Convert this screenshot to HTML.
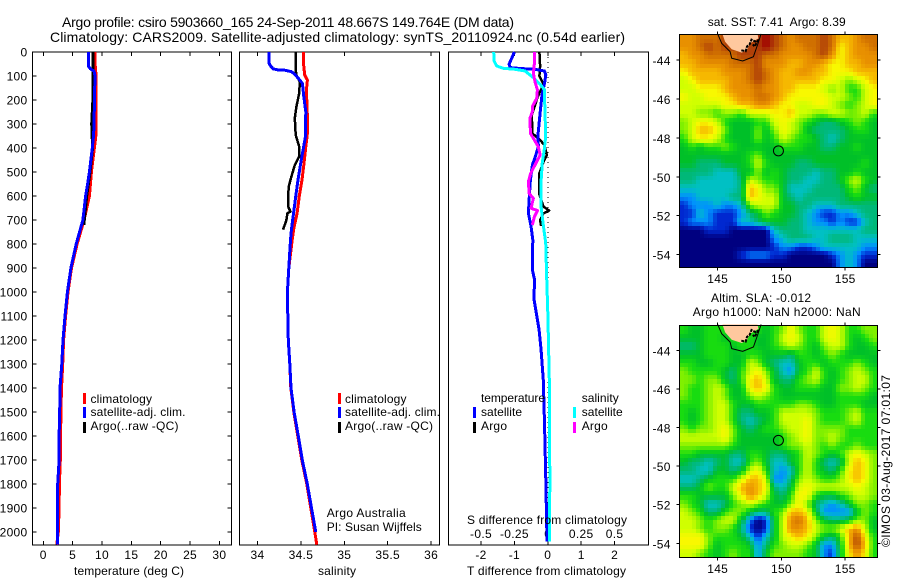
<!DOCTYPE html>
<html>
<head>
<meta charset="utf-8">
<title>Argo profile</title>
<style>
html,body{margin:0;padding:0;background:#fff;}
svg{display:block;}
text{font-family:"Liberation Sans",sans-serif;font-size:12px;fill:#000;}
.t{font-size:14px;}
</style>
</head>
<body>
<svg id="fig" xmlns="http://www.w3.org/2000/svg" width="900" height="580" viewBox="0 0 900 580">
<rect width="900" height="580" fill="#fff"/>
<text class="t" x="62" y="27" textLength="452" lengthAdjust="spacing">Argo profile: csiro 5903660_165 24-Sep-2011 48.667S 149.764E (DM data)</text>
<text class="t" x="50" y="42" textLength="575" lengthAdjust="spacing">Climatology: CARS2009. Satellite-adjusted climatology: synTS_20110924.nc (0.54d earlier)</text>

<g id="p1"></g>
<g id="p2"></g>
<g id="p3"></g>
<g id="m1"></g>
<g id="m2"></g>

<text x="74" y="575" textLength="110" lengthAdjust="spacing">temperature (deg C)</text>
<text x="318" y="575" textLength="38" lengthAdjust="spacing">salinity</text>
<text x="467" y="575" textLength="159" lengthAdjust="spacing">T difference from climatology</text>
<text x="467" y="524" textLength="160" lengthAdjust="spacing">S difference from climatology</text>
<text x="326.7" y="517" textLength="79" lengthAdjust="spacing">Argo Australia</text>
<text x="326.7" y="531" textLength="95" lengthAdjust="spacing">PI: Susan Wijffels</text>

<g>
<rect x="83" y="393" width="3" height="11" fill="#ff0000"/><text x="90.5" y="403" textLength="61.5" lengthAdjust="spacing">climatology</text>
<rect x="83" y="407" width="3" height="11" fill="#0000ff"/><text x="90.5" y="416" textLength="95" lengthAdjust="spacing">satellite-adj. clim.</text>
<rect x="83" y="422" width="3" height="11" fill="#000"/><text x="90.5" y="430" textLength="88" lengthAdjust="spacing">Argo(..raw -QC)</text>
</g>
<g>
<rect x="338" y="393" width="3" height="11" fill="#ff0000"/><text x="345" y="403" textLength="61.5" lengthAdjust="spacing">climatology</text>
<rect x="338" y="407" width="3" height="11" fill="#0000ff"/><text x="345" y="416" textLength="95" lengthAdjust="spacing">satellite-adj. clim.</text>
<rect x="338" y="422" width="3" height="11" fill="#000"/><text x="345" y="430" textLength="88" lengthAdjust="spacing">Argo(..raw -QC)</text>
</g>
<g>
<text x="481" y="402" textLength="64" lengthAdjust="spacing">temperature</text>
<rect x="473" y="407" width="3" height="11" fill="#0000ff"/><text x="481" y="416" textLength="41" lengthAdjust="spacing">satellite</text>
<rect x="473" y="422" width="3" height="11" fill="#000"/><text x="481" y="430" textLength="26" lengthAdjust="spacing">Argo</text>
<text x="581.7" y="402" textLength="37" lengthAdjust="spacing">salinity</text>
<rect x="573" y="407" width="3" height="11" fill="#00ffff"/><text x="581.7" y="416" textLength="41" lengthAdjust="spacing">satellite</text>
<rect x="573" y="422" width="3" height="11" fill="#ff00ff"/><text x="581.7" y="430" textLength="26" lengthAdjust="spacing">Argo</text>
</g>

<text x="707.7" y="26" textLength="138" lengthAdjust="spacing" xml:space="preserve">sat. SST: 7.41  Argo: 8.39</text>
<text x="711" y="302" textLength="100" lengthAdjust="spacing">Altim. SLA: -0.012</text>
<text x="692.7" y="316" textLength="168" lengthAdjust="spacing">Argo h1000: NaN h2000: NaN</text>
<text transform="translate(890,547) rotate(-90)" textLength="172" lengthAdjust="spacing">©IMOS 03-Aug-2017 07:01:07</text>
</svg>
<script>
/* ---------- profile data: depths (db) and values ---------- */
const tempClimDepth=[0,47,100,200,340,400,500,600,700,800,900,1000,1100,1200,1300,1400,1500,1700,1800,1900,2000,2053];
const tempClimVal=[8.8,8.8,9.0,9.0,9.0,8.7,8.2,7.85,6.95,5.75,4.8,4.2,3.8,3.45,3.3,3.1,3.0,2.9,2.75,2.7,2.55,2.3];
const tempSatDepth=[0,60,70,80,100,200,300,350,400,500,550,600,700,800,900,1000,1100,1200,1300,1400,1500,1600,1700,1800,2000,2053];
const tempSatVal=[7.7,7.7,8.0,8.65,8.8,8.7,8.65,8.55,8.35,7.85,7.55,7.2,6.75,5.6,4.7,4.1,3.7,3.35,3.15,2.85,2.8,2.7,2.7,2.45,2.45,2.4];
const tempArgoDepth=[0,100,200,300,400,500,600,720];
const tempArgoVal=[8.45,8.45,8.45,8.25,8.4,7.95,7.4,6.9];

const salClimDepth=[0,47,96,117,158,269,339,394,464,533,603,672,735,783,900,1000,1100,1200,1300,1400,1500,1600,1700,1800,1900,2000,2053];
const salClimVal=[34.53,34.53,34.544,34.575,34.563,34.575,34.575,34.556,34.536,34.513,34.48,34.456,34.418,34.40,34.361,34.344,34.349,34.355,34.372,34.384,34.418,34.464,34.51,34.568,34.614,34.66,34.683];
const salSatDepth=[0,47,58,70,75,76,82,93,114,131,186,249,353,408,464,533,603,686,742,783,900,1000,1100,1200,1300,1400,1500,1600,1700,1800,1900,2000];
const salSatVal=[34.134,34.134,34.15,34.18,34.238,34.314,34.39,34.43,34.48,34.517,34.533,34.556,34.552,34.525,34.498,34.467,34.44,34.41,34.39,34.38,34.361,34.344,34.349,34.355,34.372,34.386,34.422,34.47,34.516,34.574,34.622,34.672];
const salArgoDepth=[0,75,96,124,172,228,276,346,394,436,471,519,561,610,644,665,672,700,740];
const salArgoVal=[34.44,34.44,34.448,34.487,34.48,34.448,34.43,34.44,34.48,34.48,34.43,34.39,34.36,34.352,34.352,34.38,34.345,34.333,34.295];

const dtSatDepth=[0,10,51,65,69,72,79,96,131,186,255,353,394,429,471,533,617,672,728,783,908,946,1033,1158,1242,1367,1546,1783,1992,2040];
const dtSatVal=[-1.0,-1.03,-1.16,-1.13,-0.78,-0.38,-0.10,-0.06,-0.10,-0.18,-0.23,-0.30,-0.28,-0.36,-0.46,-0.52,-0.56,-0.58,-0.5,-0.45,-0.46,-0.40,-0.41,-0.26,-0.2,-0.135,-0.10,-0.06,-0.03,-0.02];
const dsSatDepth=[0,37,58,68,72,79,107,135,156,253,350,406,461,544,642,725,794,942,1100,1367,1546,1783,1992,2040];
const dsSatVal=[-0.405,-0.402,-0.383,-0.333,-0.245,-0.17,-0.108,-0.058,-0.026,-0.021,-0.016,-0.026,-0.041,-0.051,-0.051,-0.033,-0.016,-0.008,0.001,0.011,0.011,0.016,0.011,0.011];
const dtArgoDepth=[0,58,100,135,186,262,339,367,388,429,457,505,589,644,661,672,700,725];
const dtArgoVal=[-0.25,-0.23,-0.25,-0.13,-0.30,-0.48,-0.46,-0.23,-0.10,-0.03,-0.13,-0.25,-0.26,-0.13,0.04,-0.13,-0.23,-0.2];
const dsArgoDepth=[0,47,89,124,158,193,228,249,276,339,360,394,429,471,505,540,589,610,651,661,686,721];
const dsArgoVal=[-0.10,-0.10,-0.108,-0.096,-0.078,-0.083,-0.116,-0.116,-0.133,-0.13,-0.108,-0.071,-0.058,-0.096,-0.128,-0.145,-0.14,-0.108,-0.126,-0.076,-0.10,-0.116];

/* ---------- tick values and labels ---------- */
const depthTicks=[0,100,200,300,400,500,600,700,800,900,1000,1100,1200,1300,1400,1500,1600,1700,1800,1900,2000];
const tempTicks=[0,5,10,15,20,25,30];
const salTicks=[34,34.5,35,35.5,36];
const salTickLabels=["34","34.5","35","35.5","36"];
const salTopTicks=[34,35,36];
const dtTicks=[-2,-1,0,1,2];
const dsTicks=[-0.5,-0.25,0,0.25,0.5];
const dsTickLabels=["-0.5","-0.25","0","0.25","0.5"];
const lonTicks=[145,150,155];
const latTicks=[-44,-46,-48,-50,-52,-54];

/* ---------- map data: colour level per grid cell (north to south) ---------- */
const sstGrid=[
[11,11,12,12,12,13,13,13,13,13,14,13,12,11,12,12,12,13,12,10,10,11,12,12],
[11,11,12,13,12,13,13,13,13,13,14,13,12,11,11,12,12,13,12,9,10,11,11,12],
[10,11,11,12,12,12,12,13,13,13,12,12,11,11,11,11,12,13,11,9,10,11,11,11],
[10,10,11,11,11,11,12,12,12,13,11,11,11,10,10,11,11,10,9,9,10,10,11,11],
[9,10,10,10,10,11,11,11,12,13,12,11,10,10,11,11,10,10,9,9,9,10,10,10],
[8,9,10,10,10,10,11,11,12,13,12,11,10,10,10,10,10,9,9,8,7,8,9,10],
[8,8,9,9,9,10,11,11,11,12,11,11,10,10,9,9,9,8,7,8,6,6,8,9],
[9,8,8,9,9,9,10,11,11,12,12,11,10,9,9,9,9,9,8,8,7,6,8,9],
[8,8,8,8,8,9,9,10,10,11,11,10,9,9,8,8,9,9,8,7,6,7,8,9],
[8,8,7,7,6,7,7,6,8,8,8,9,9,10,8,8,7,7,8,8,7,7,8,6],
[7,8,9,9,8,6,5,5,5,6,6,8,9,8,7,6,5,4,4,5,6,7,6,5],
[7,8,10,10,9,7,5,5,5,7,5,7,9,8,7,5,4,4,4,4,5,6,6,5],
[6,8,9,9,8,6,5,5,5,7,5,6,8,7,6,6,5,4,3,4,5,5,5,5],
[5,6,5,6,6,7,6,5,5,5,5,5,6,6,6,5,5,4,4,5,5,6,5,5],
[5,5,5,5,5,5,5,5,6,7,5,5,5,5,5,5,5,5,5,5,5,5,5,5],
[5,5,4,4,4,5,5,5,6,8,6,5,5,5,4,4,5,5,5,5,5,5,6,5],
[4,4,4,4,3,3,3,5,5,7,5,6,5,4,4,4,3,4,4,5,5,6,5,5],
[4,4,3,3,3,3,3,4,8,7,6,6,5,4,4,3,3,4,4,5,7,8,6,5],
[3,3,3,3,3,3,3,4,10,9,7,7,5,3,3,3,4,4,4,4,6,7,5,4],
[2,2,3,3,3,3,4,4,10,9,8,8,5,4,3,4,4,4,4,4,5,6,5,5],
[1,2,2,2,3,2,2,3,7,8,8,8,5,5,4,4,3,3,3,4,4,4,4,4],
[1,1,3,2,1,1,1,2,4,5,7,6,5,5,4,3,2,1,1,2,2,3,4,4],
[1,2,2,2,1,1,1,3,3,4,5,5,5,4,4,3,2,2,1,2,1,1,3,4],
[0,0,0,1,1,1,0,0,0,0,0,3,4,4,4,3,3,3,3,3,3,3,4,4],
[0,0,0,0,0,0,0,0,0,0,0,2,3,4,4,4,3,3,4,4,4,3,3,3],
[0,0,0,0,0,0,0,0,0,0,0,1,2,2,1,1,2,3,3,3,3,3,2,2],
[0,0,0,0,0,0,0,1,2,2,2,1,1,0,0,0,0,0,1,2,3,2,1,1],
[0,0,0,0,0,0,0,0,0,0,0,0,0,0,0,0,0,0,0,2,3,2,0,0]
];
const slaGrid=[
[6,5,5,6,6,6,6,6,6,6,5,6,7,9,7,6,6,8,9,8,6,6,7,7],
[5,5,5,6,6,5,6,6,6,5,5,6,8,9,8,6,6,8,9,8,6,5,6,7],
[4,4,5,6,6,6,5,6,6,5,5,6,7,8,7,6,5,7,8,8,6,5,5,6],
[5,5,5,6,6,6,5,5,6,6,5,5,5,4,6,6,5,6,7,6,5,5,5,5],
[6,6,5,5,6,6,5,5,8,7,5,4,3,3,5,6,6,5,6,6,6,7,6,5],
[7,6,6,6,6,5,4,6,8,9,7,5,3,2,5,6,8,6,5,6,7,8,7,6],
[7,7,6,7,7,5,4,6,9,10,8,5,4,4,6,7,8,6,5,6,7,8,8,6],
[7,6,6,7,8,7,5,5,9,10,9,6,5,5,6,6,6,5,5,7,7,8,7,6],
[7,6,6,7,8,7,5,5,7,8,7,6,5,5,5,5,5,5,5,6,6,6,6,5],
[6,6,6,7,8,8,6,5,5,6,6,6,6,6,7,7,6,5,5,6,6,6,5,5],
[6,5,6,7,8,8,6,4,4,5,5,6,8,8,8,8,7,6,6,6,7,8,6,6],
[6,5,6,7,8,8,6,4,3,4,5,6,8,8,8,9,7,6,6,6,7,8,6,6],
[7,6,7,7,8,9,7,5,4,5,6,6,7,8,8,9,7,7,7,7,6,6,6,6],
[8,8,8,8,8,9,7,5,5,5,5,5,6,7,8,9,7,7,8,7,6,6,6,6],
[7,7,7,7,7,7,6,5,5,5,5,5,6,7,7,8,7,6,7,6,6,7,6,6],
[6,6,5,5,5,5,4,4,6,6,5,4,4,5,6,8,7,6,5,6,8,9,8,7],
[5,4,4,3,4,5,3,3,6,7,5,3,3,5,6,8,6,4,3,4,8,10,9,7],
[4,4,3,3,5,5,4,5,8,9,6,3,2,3,6,8,6,5,4,6,9,10,9,7],
[3,3,4,5,6,6,6,8,10,10,8,2,2,4,7,8,7,6,6,7,9,10,9,7],
[4,4,5,7,6,6,8,10,11,10,9,4,3,5,8,9,8,8,8,8,8,9,8,7],
[6,6,5,5,5,5,7,9,11,10,8,5,4,6,9,9,6,5,5,6,7,8,8,7],
[7,6,5,3,3,4,6,7,8,7,6,5,5,7,9,7,4,3,2,3,5,7,7,6],
[8,7,6,4,4,6,7,7,5,4,4,6,7,10,10,9,5,2,2,2,2,5,7,6],
[8,8,7,6,7,8,8,5,2,0,1,5,8,11,12,10,7,5,4,4,5,7,7,5],
[8,8,7,6,7,7,6,4,1,0,1,5,8,11,11,10,8,7,7,8,10,11,8,5],
[9,9,9,7,6,6,6,5,3,1,3,5,8,9,10,9,7,5,4,6,10,13,9,6],
[9,9,9,7,5,6,6,6,5,2,4,6,7,8,8,7,5,2,2,5,10,13,10,6],
[8,8,7,6,5,6,7,6,6,2,5,7,7,7,7,6,5,2,1,5,9,11,9,6]
];
const coastLon=[145,145.31,145.97,146.1,146.96,147.8,148.12,148.4];
const coastLat=[-42.66,-43.14,-43.57,-43.91,-44.05,-43.83,-43.23,-42.66];
const landLon=[145.37,145.58,146.1,146.88,147.28,147.54,148.19,148.12];
const landLat=[-42.66,-43.06,-43.45,-43.62,-43.49,-43.14,-42.89,-42.66];
const shoalLon=[146.85,147.2,147.3,147.5,147.65,147.95,148.15,147.9,147.75];
const shoalLat=[-43.5,-43.55,-43.3,-43.2,-42.95,-43.05,-43.0,-43.3,-43.2];
const floatLon=[149.764];
const floatLat=[-48.667];

/* ---------- helpers ---------- */
const NS="http://www.w3.org/2000/svg";
function mk(parent,tag,attrs){
  const e=document.createElementNS(NS,tag);
  for(const k in attrs){e.setAttribute(k,attrs[k]);}
  parent.appendChild(e);
  return e;
}
const PAL=[[0,0,128],[0,40,208],[0,144,255],[0,192,196],[0,184,120],[0,192,40],[24,220,16],[128,240,0],[208,255,0],[248,248,0],[246,184,0],[232,144,0],[208,112,0],[176,64,8],[160,0,0]];
function levelColor(v){
  const i=Math.max(0,Math.min(PAL.length-2,Math.floor(v)));
  const f=Math.max(0,Math.min(1,v-i));
  const a=PAL[i],b=PAL[i+1];
  return 'rgb('+a.map((c,k)=>Math.round(c+(b[k]-c)*f)).join(',')+')';
}
function sampleGrid(grid,fr,fc){
  const rows=grid.length,cols=grid[0].length;
  const r=Math.max(0,Math.min(rows-1.001,fr-0.5)),c=Math.max(0,Math.min(cols-1.001,fc-0.5));
  const r0=Math.floor(r),c0=Math.floor(c),dr=r-r0,dc=c-c0;
  return grid[r0][c0]*(1-dr)*(1-dc)+grid[r0][c0+1]*(1-dr)*dc+grid[r0+1][c0]*dr*(1-dc)+grid[r0+1][c0+1]*dr*dc;
}

/* profile axes */
const PTOP=52,PBOT=545;
function yD(d){return 52+0.24*d;}
function xTemp(v){return 43.3+5.87*v;}
function xSal(v){return 257.5+86.8*(v-34);}
function xDT(v){return 547.8+33.4*v;}
function xDS(v){return xDT(v*4);}

function drawFrame(g,l,r,name){
  const f=mk(g,'rect',{x:l,y:PTOP,width:r-l,height:PBOT-PTOP,fill:'#fff',stroke:'#000','stroke-width':1,'shape-rendering':'crispEdges'});
  
  
}
function tick(g,x1,y1,x2,y2){
  const t=mk(g,'line',{x1:x1,y1:y1,x2:x2,y2:y2,stroke:'#000','stroke-width':1,'shape-rendering':'crispEdges'});
  
  
}
function label(g,x,y,str,anchor){
  const t=mk(g,'text',{x:x,y:y,'text-anchor':anchor||'middle','letter-spacing':'0.3'});
  t.textContent=str;
  
  
}
function profile(g,xf,depths,vals,color,w,name){
  const pts=depths.map((d,i)=>xf(vals[i]).toFixed(1)+','+yD(d).toFixed(1)).join(' ');
  const p=mk(g,'polyline',{points:pts,fill:'none',stroke:color,'stroke-width':w,'shape-rendering':'crispEdges','stroke-linejoin':'round'});
  
  
}

/* temperature panel */
const p1=document.getElementById('p1');
drawFrame(p1,32.5,231.5,'temperature-plot-frame');
depthTicks.forEach(d=>{
  tick(p1,32.5,yD(d),36.5,yD(d));
  tick(p1,231.5,yD(d),227.5,yD(d));
  label(p1,27.5,yD(d)+4.5,String(d),'end');
});
tempTicks.forEach(v=>{
  tick(p1,xTemp(v),PTOP,xTemp(v),PTOP+4);
  tick(p1,xTemp(v),PBOT,xTemp(v),PBOT-4);
  label(p1,xTemp(v),559,String(v));
});
profile(p1,xTemp,tempClimDepth,tempClimVal,'#ff0000',3,'temperature-climatology-line');
profile(p1,xTemp,tempArgoDepth,tempArgoVal,'#000000',3,'temperature-argo-line');
profile(p1,xTemp,tempSatDepth,tempSatVal,'#0000ff',3,'temperature-satellite-line');

/* salinity panel */
const p2=document.getElementById('p2');
drawFrame(p2,239.5,439.5,'salinity-plot-frame');
salTicks.forEach((v,i)=>{
  tick(p2,xSal(v),PBOT,xSal(v),PBOT-4);
  label(p2,xSal(v),559,salTickLabels[i]);
});
salTopTicks.forEach(v=>{
  tick(p2,xSal(v),PTOP,xSal(v),PTOP+4);
});
profile(p2,xSal,salClimDepth,salClimVal,'#ff0000',3,'salinity-climatology-line');
profile(p2,xSal,salArgoDepth,salArgoVal,'#000000',2.5,'salinity-argo-line');
profile(p2,xSal,salSatDepth,salSatVal,'#0000ff',3,'salinity-satellite-line');

/* difference panel */
const p3=document.getElementById('p3');
drawFrame(p3,448.5,648.5,'difference-plot-frame');
dtTicks.forEach(v=>{
  tick(p3,xDT(v),PTOP,xDT(v),PTOP+4);
  tick(p3,xDT(v),PBOT,xDT(v),PBOT-4);
  label(p3,xDT(v),559,String(v));
});
dsTicks.forEach((v,i)=>{
  label(p3,xDS(v),538,dsTickLabels[i]);
});
const zeroLine=mk(p3,'line',{x1:xDT(0),y1:PTOP,x2:xDT(0),y2:PBOT,stroke:'#000','stroke-width':1,'stroke-dasharray':'1 4','shape-rendering':'crispEdges'});


profile(p3,xDT,dtArgoDepth,dtArgoVal,'#000000',2.5,'t-difference-argo-line');
profile(p3,xDT,dtSatDepth,dtSatVal,'#0000ff',3,'t-difference-satellite-line');
profile(p3,xDS,dsSatDepth,dsSatVal,'#00ffff',3,'s-difference-satellite-line');
profile(p3,xDS,dsArgoDepth,dsArgoVal,'#ff00ff',3,'s-difference-argo-line');

/* maps */
function drawMap(g,grid,L,R,T,B,lat44,pxPerLat,labelY,prefix,sub){
  const xL=v=>717.7+12.75*(v-145);
  const yL=v=>lat44+pxPerLat*(-44-v);
  const rows=grid.length*sub,cols=grid[0].length*sub;
  const cw=(R-L)/cols,ch=(B-T)/rows;
  for(let r=0;r<rows;r++){
    for(let c=0;c<cols;c++){
      const x0=Math.round(L+c*cw),x1=Math.round(L+(c+1)*cw);
      const y0=Math.round(T+r*ch),y1=Math.round(T+(r+1)*ch);
      const lv=sampleGrid(grid,(r+0.5)/sub,(c+0.5)/sub);
      const cell=mk(g,'rect',{x:x0,y:y0,width:x1-x0,height:y1-y0,fill:levelColor(lv),'shape-rendering':'crispEdges'});
      
      
    }
  }
  const land=mk(g,'polygon',{points:landLon.map((v,i)=>xL(v).toFixed(1)+','+yL(landLat[i]).toFixed(1)).join(' '),fill:'#ffc89e'});
  
  
  const shoal=mk(g,'polyline',{points:shoalLon.map((v,i)=>xL(v).toFixed(1)+','+yL(shoalLat[i]).toFixed(1)).join(' '),fill:'none',stroke:'#000','stroke-width':2,'stroke-dasharray':'3 1'});
  
  
  const coast=mk(g,'polyline',{points:coastLon.map((v,i)=>xL(v).toFixed(1)+','+yL(coastLat[i]).toFixed(1)).join(' '),fill:'none',stroke:'#000','stroke-width':1});
  
  
  floatLon.forEach((v,i)=>{
    const m=mk(g,'circle',{cx:xL(v),cy:yL(floatLat[i]),r:5,fill:'none',stroke:'#000','stroke-width':1});
    
    
  });
  const frame=mk(g,'rect',{x:L,y:T,width:R-L,height:B-T,fill:'none',stroke:'#000','stroke-width':1,'shape-rendering':'crispEdges'});
  
  
  lonTicks.forEach(v=>{
    tick(g,xL(v),T,xL(v),T-3);
    tick(g,xL(v),B,xL(v),B+3);
    label(g,xL(v),labelY,String(v));
  });
  latTicks.forEach(v=>{
    tick(g,L,yL(v),L-3,yL(v));
    tick(g,R,yL(v),R+3,yL(v));
    label(g,670.7,yL(v)+5,String(v),'end');
  });
}
drawMap(document.getElementById('m1'),sstGrid,679.5,877.5,34.5,267.5,60,19.46,283,'sst',2);
drawMap(document.getElementById('m2'),slaGrid,679.5,877.5,325.5,557.5,350.3,19.3,573,'sla',2);
</script>
</body>
</html>
